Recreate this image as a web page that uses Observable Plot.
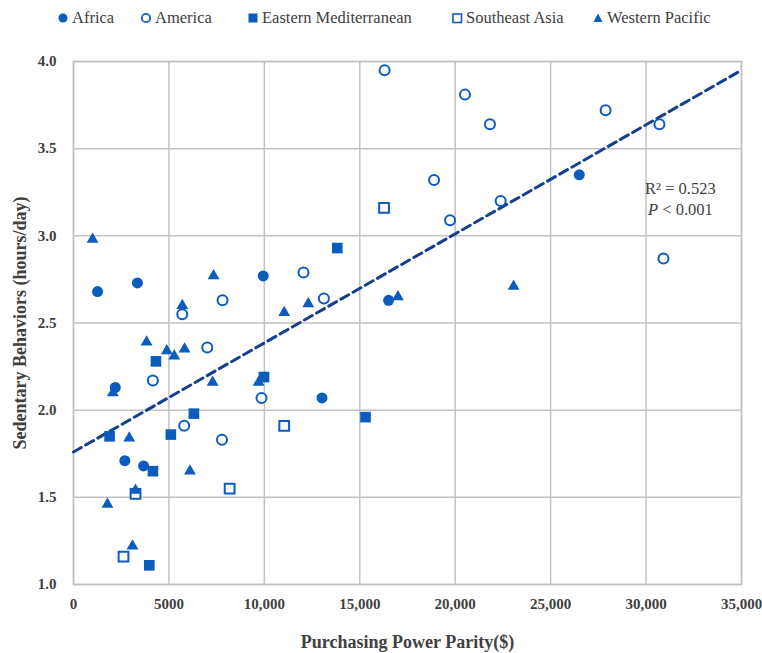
<!DOCTYPE html>
<html>
<head>
<meta charset="utf-8">
<script src="https://cdn.jsdelivr.net/npm/d3@7"></script>
<script src="https://cdn.jsdelivr.net/npm/@observablehq/plot@0.6"></script>
<style>
  body { margin: 0; background: #fff; font-family: "Liberation Serif", serif; }
  #wrap { width: 762px; }
  #legend { position: relative; height: 36px; font-size: 16.5px; color: #404040; }
  .item { position: absolute; top: 8px; display: flex; align-items: center; white-space: nowrap; }
  .item svg { margin-right: 3px; }
</style>
</head>
<body>
<div id="wrap">
  <div id="legend"></div>
  <div id="chart"></div>
</div>
<script>
// ---- Data ----
const regions = ["Africa", "America", "Eastern Mediterranean", "Southeast Asia", "Western Pacific"];

const africaPPP = [1260, 3350, 9940, 2190, 2690, 3670, 16510, 13020, 26500];
const africaSB  = [2.68, 2.73, 2.77, 2.13, 1.71, 1.68, 2.63, 2.07, 3.35];

const americaPPP = [12050, 7810, 5700, 7010, 4160, 9850, 5800, 7780, 16300, 20510, 21820, 18890, 19730, 22380, 13120, 27880, 30700, 30910];
const americaSB  = [2.79, 2.63, 2.55, 2.36, 2.17, 2.07, 1.91, 1.83, 3.95, 3.81, 3.64, 3.32, 3.09, 3.20, 2.64, 3.72, 3.64, 2.87];

const emedPPP = [4320, 9980, 6310, 5100, 1890, 4160, 3970, 13820, 15300];
const emedSB  = [2.28, 2.19, 1.98, 1.86, 1.85, 1.65, 1.11, 2.93, 1.96];

const seasiaPPP = [11040, 3250, 8180, 2620, 16270];
const seasiaSB  = [1.91, 1.52, 1.55, 1.16, 3.16];

const wpacPPP = [1000, 7340, 5700, 11040, 12300, 3830, 4890, 5280, 5820, 2060, 7290, 9700, 2920, 6100, 3250, 1780, 3090, 17000, 23060];
const wpacSB  = [2.98, 2.77, 2.60, 2.56, 2.61, 2.39, 2.34, 2.31, 2.35, 2.10, 2.16, 2.16, 1.84, 1.65, 1.54, 1.46, 1.22, 2.65, 2.71];

// regression line end points
const trendPPP = [0, 35000];
const trendSB  = [1.76, 3.95];

const xTicks = [0, 5000, 10000, 15000, 20000, 25000, 30000, 35000];
const xTickLabels = ["0", "5000", "10,000", "15,000", "20,000", "25,000", "30,000", "35,000"];
const yTicks = [1.0, 1.5, 2.0, 2.5, 3.0, 3.5, 4.0];
const yTickLabels = ["1.0", "1.5", "2.0", "2.5", "3.0", "3.5", "4.0"];

const statsLines = ["R² = 0.523", "P < 0.001"];
const statsPPP = [31800, 31800];
const statsSB = [3.27, 3.15];

const xTitle = "Purchasing Power Parity($)";
const yTitle = "Sedentary Behaviors (hours/day)";

// ---- Build tables ----
const zip = (xs, ys) => xs.map((x, i) => ({ppp: x, sb: ys[i]}));
const africa = zip(africaPPP, africaSB);
const america = zip(americaPPP, americaSB);
const emed = zip(emedPPP, emedSB);
const seasia = zip(seasiaPPP, seasiaSB);
const wpac = zip(wpacPPP, wpacSB);
const trend = zip(trendPPP, trendSB);
const stats = statsLines.map((t, i) => ({text: t, ppp: statsPPP[i], sb: statsSB[i]}));

const blue = "#0b5cbd";
const navy = "#163f8e";
const gridColor = "#c2c2c2";

// ---- Legend ----
const legendSpecs = [
  {name: regions[0], left: 57, svg: `<circle cx="6" cy="8" r="4.5" fill="${blue}"/>`},
  {name: regions[1], left: 140, svg: `<circle cx="6" cy="8" r="4.2" fill="none" stroke="${blue}" stroke-width="1.8"/>`},
  {name: regions[2], left: 247, svg: `<rect x="1.5" y="3.5" width="9" height="9" fill="${blue}"/>`},
  {name: regions[3], left: 451, svg: `<rect x="2" y="4" width="8.5" height="8.5" fill="none" stroke="${blue}" stroke-width="1.6"/>`},
  {name: regions[4], left: 592, svg: `<path d="M6,3.5 L10.5,12 L1.5,12 Z" fill="${blue}"/>`}
];
const legend = document.getElementById("legend");
for (const s of legendSpecs) {
  const d = document.createElement("div");
  d.className = "item";
  d.style.left = s.left + "px";
  d.innerHTML = `<svg width="12" height="16">${s.svg}</svg><span>${s.name}</span>`;
  legend.appendChild(d);
}

// ---- Chart ----
const chart = Plot.plot({
  width: 762,
  height: 617,
  marginTop: 25,
  marginBottom: 69,
  marginLeft: 73,
  marginRight: 21,
  style: {fontFamily: "Liberation Serif", fontSize: "15px", fontWeight: "bold", color: "#404040", background: "#fff"},
  x: {domain: [0, 35000]},
  y: {domain: [1, 4]},
  marks: [
    Plot.gridX(xTicks, {stroke: gridColor, strokeOpacity: 1, strokeWidth: 1.5}),
    Plot.gridY(yTicks, {stroke: gridColor, strokeOpacity: 1, strokeWidth: 1.5}),
    Plot.frame({stroke: gridColor, strokeWidth: 1.5}),
    Plot.axisX(xTicks, {tickSize: 0, tickPadding: 14, tickFormat: (d, i) => xTickLabels[i], label: xTitle, labelAnchor: "center", labelArrow: "none", labelOffset: 63, fill: "#404040", fontSize: 15}),
    Plot.axisY(yTicks, {tickSize: 0, tickPadding: 17, tickFormat: (d, i) => yTickLabels[i], label: yTitle, labelAnchor: "center", labelArrow: "none", labelOffset: 60, fill: "#404040", fontSize: 15}),
    Plot.line(trend, {x: "ppp", y: "sb", stroke: navy, strokeWidth: 3, strokeDasharray: "9,5"}),
    Plot.dot(africa, {x: "ppp", y: "sb", symbol: "circle", r: 5.5, fill: blue}),
    Plot.dot(america, {x: "ppp", y: "sb", symbol: "circle", r: 5, fill: "white", stroke: blue, strokeWidth: 2}),
    Plot.dot(emed, {x: "ppp", y: "sb", symbol: "square", r: 6, fill: blue}),
    Plot.dot(seasia, {x: "ppp", y: "sb", symbol: "square", r: 5.5, fill: "white", stroke: blue, strokeWidth: 2}),
    Plot.dot(wpac, {x: "ppp", y: "sb", symbol: "triangle", r: 4.4, fill: blue}),
    Plot.text(stats, {x: "ppp", y: "sb", text: "text", fontSize: 16.5, fontWeight: "normal", fill: "#404040", textAnchor: "middle"})
  ]
});

// axis titles larger
d3.select(chart).selectAll("g[aria-label='x-axis label'] text, g[aria-label='y-axis label'] text")
  .style("font-size", "18px");

// italic P
d3.select(chart).selectAll("text").each(function() {
  const t = d3.select(this);
  if (t.text() === statsLines[1]) {
    t.text("");
    t.append("tspan").style("font-style", "italic").text("P");
    t.append("tspan").text(statsLines[1].slice(1));
  }
});

document.getElementById("chart").appendChild(chart);
</script>
</body>
</html>
